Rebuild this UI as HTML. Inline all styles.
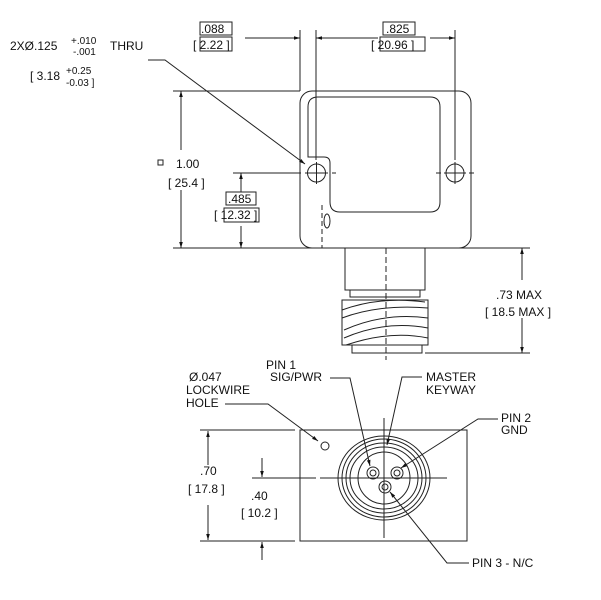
<!DOCTYPE html>
<html><head><meta charset="utf-8"><style>
html,body{margin:0;padding:0;background:#fff;}
svg{display:block;font-family:"Liberation Sans",sans-serif;font-size:12px;fill:#111;}
</style></head><body>
<svg width="601" height="600" viewBox="0 0 601 600" xmlns="http://www.w3.org/2000/svg">
<defs>
<marker id="a" viewBox="0 0 10 10" refX="10" refY="5" markerWidth="8" markerHeight="6" orient="auto-start-reverse"><path d="M0,2 L10,5 L0,8 Z" fill="#111"/></marker>
</defs>
<g stroke="#222" stroke-width="1" fill="none">
<!-- top view body -->
<rect x="300" y="91" width="171" height="157" rx="12"/>
<path d="M318,97 H430 Q440,97 440,107 V202 Q440,212 430,212 H340 Q330,212 330,202 V163 Q330,157 324,157 H308 V107 Q308,97 318,97 Z"/>
<circle cx="316.5" cy="173" r="9"/><circle cx="455" cy="173" r="9"/>
<path d="M305,173 H328 M316.5,162 V184 M444,173 H466 M455,162 V184"/>
<path d="M296,173 H301 M332,173 H336 M436,173 H441 M469,173 H474" />
<ellipse cx="327" cy="221" rx="3" ry="7"/>
<path d="M322,205 V248" stroke-dasharray="5,3"/>
<!-- extension lines -->
<path d="M300,30 V91 M316,30 V160 M455,30 V160"/>
<path d="M245,38 H300" marker-end="url(#a)"/>
<path d="M378,38 H316" marker-end="url(#a)"/>
<path d="M430,38 H455" marker-end="url(#a)"/>
<path d="M173,91 H300 M173,248 H530"/>
<path d="M181,150 V91" marker-end="url(#a)"/>
<path d="M181,190 V248" marker-end="url(#a)"/>
<path d="M233,173 H300"/>
<path d="M241,192 V173" marker-end="url(#a)"/>
<path d="M241,226 V248" marker-end="url(#a)"/>
<!-- leader 2X -->
<path d="M148,60 H165 L305,164" marker-end="url(#a)"/>
<!-- connector side -->
<rect x="345" y="248" width="80" height="42"/>
<path d="M350,290 H420 V297 H350 Z"/>
<path d="M342,300 H428 V345 H342 Z"/>
<path d="M342,310 Q380,296 425,302 M342,318 Q380,304 428,308 M344,330 Q385,312 428,318 M344,338 Q385,320 428,328 M346,345 Q390,330 428,338"/>
<rect x="352" y="345" width="70" height="8"/>
<path d="M386,248 V360" stroke-dasharray="6,3"/>
<path d="M425,353 H530"/>
<path d="M522,280 V248" marker-end="url(#a)"/>
<path d="M522,318 V353" marker-end="url(#a)"/>
<!-- bottom view -->
<rect x="300" y="430" width="167" height="111"/>
<ellipse cx="384" cy="478" rx="46" ry="42"/>
<ellipse cx="384" cy="478" rx="42" ry="39"/>
<ellipse cx="384" cy="478" rx="38" ry="35"/>
<ellipse cx="384" cy="478" rx="34" ry="31"/>
<circle cx="384" cy="478" r="26"/>
<circle cx="373" cy="473" r="6"/><circle cx="373" cy="473" r="3"/>
<circle cx="397" cy="473" r="6"/><circle cx="397" cy="473" r="3"/>
<circle cx="385" cy="487" r="6"/><circle cx="385" cy="487" r="3"/>
<path d="M320,478 H447 M384,418 V538"/>
<circle cx="325" cy="446" r="4"/>
<path d="M200,430 H295 M200,541 H295 M252,478 H316"/>
<path d="M208,465 V431" marker-end="url(#a)"/>
<path d="M208,505 V540" marker-end="url(#a)"/>
<path d="M262,458 V477" marker-end="url(#a)"/>
<path d="M262,560 V542" marker-end="url(#a)"/>
<path d="M225,404 H268 L318,441" marker-end="url(#a)"/>
<path d="M330,378 H350 L370,466" marker-end="url(#a)"/>
<path d="M422,377 H402 L387,445" marker-end="url(#a)"/>
<path d="M498,419 H478 L401,468" marker-end="url(#a)"/>
<path d="M469,563 H447 L390,492" marker-end="url(#a)"/>
<!-- text boxes -->
<rect x="200" y="22" width="32" height="13"/><rect x="200" y="37" width="32" height="14"/>
<rect x="383" y="22" width="32" height="13"/><rect x="380" y="37" width="45" height="14"/>
<rect x="226" y="192" width="30" height="13"/><rect x="224" y="208" width="35" height="14"/>
<rect x="158" y="160" width="5" height="5"/>
</g>
<text x="201" y="33">.088</text>
<text x="193" y="49">[ 2.22 ]</text>
<text x="386" y="33">.825</text>
<text x="371" y="49">[ 20.96 ]</text>
<text x="10" y="50">2XØ.125</text>
<text x="71" y="44" font-size="10">+.010</text>
<text x="73" y="55" font-size="10">-.001</text>
<text x="110" y="50">THRU</text>
<text x="30" y="80">[ 3.18</text>
<text x="66" y="74" font-size="10">+0.25</text>
<text x="66" y="86" font-size="10">-0.03 ]</text>
<text x="176" y="168">1.00</text>
<text x="168" y="187">[ 25.4 ]</text>
<text x="228" y="203">.485</text>
<text x="214" y="219">[ 12.32 ]</text>
<text x="496" y="299">.73 MAX</text>
<text x="485" y="316">[ 18.5 MAX ]</text>
<text x="189" y="381">Ø.047</text>
<text x="186" y="394">LOCKWIRE</text>
<text x="186" y="407">HOLE</text>
<text x="266" y="369">PIN 1</text>
<text x="270" y="381">SIG/PWR</text>
<text x="426" y="381">MASTER</text>
<text x="426" y="394">KEYWAY</text>
<text x="501" y="422">PIN 2</text>
<text x="501" y="434">GND</text>
<text x="472" y="567">PIN 3 - N/C</text>
<text x="200" y="475">.70</text>
<text x="188" y="493">[ 17.8 ]</text>
<text x="251" y="500">.40</text>
<text x="241" y="517">[ 10.2 ]</text>
</svg>
</body></html>
